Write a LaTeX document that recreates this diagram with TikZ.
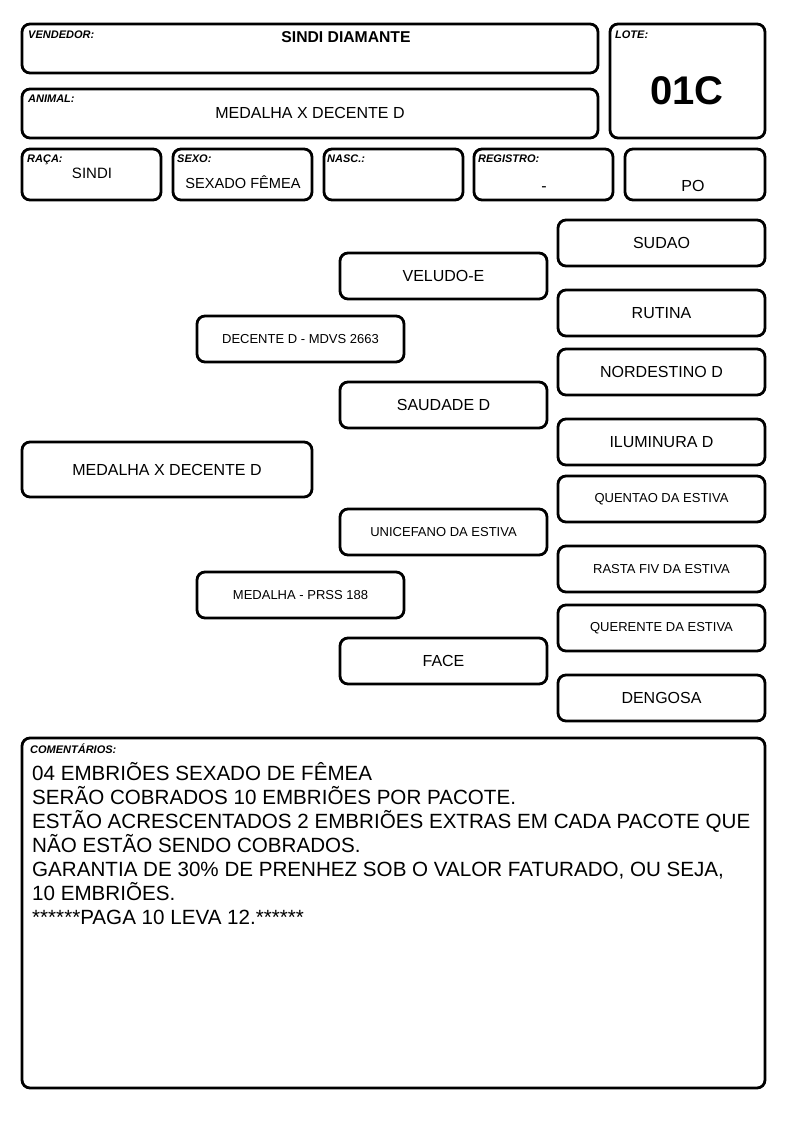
\documentclass[tikz,border=0pt]{standalone}
\usepackage{fontspec}
\setmainfont{Liberation Sans}
\begin{document}
\begin{tikzpicture}[x=1pt,y=-1pt,
  box/.style={draw=black,line width=2.8pt,rounded corners=8pt,inner sep=0pt,align=center},
  lbl/.style={anchor=base west,inner sep=0pt,font=\fontsize{11}{13}\selectfont\bfseries\itshape},
  big/.style={font=\fontsize{16}{19}\selectfont},
  small/.style={font=\fontsize{13}{15}\selectfont},
  val/.style={anchor=base,inner sep=0pt,font=\fontsize{16}{19}\selectfont},
  com/.style={anchor=base west,inner sep=0pt,font=\fontsize{20.6}{24}\selectfont}]
\useasboundingbox (0,0) rectangle (794,1123);
% header boxes
\node[box,minimum width=576pt,minimum height=49pt] (vend) at (310,48.5) {};
\node[box,minimum width=155pt,minimum height=114pt] (lote) at (687.5,81) {};
\node[box,minimum width=576pt,minimum height=49pt] (animal) at (310,113.5) {};
\node[box,minimum width=139pt,minimum height=51pt] (raca) at (91.5,174.5) {};
\node[box,minimum width=139pt,minimum height=51pt] (sexo) at (242.5,174.5) {};
\node[box,minimum width=139pt,minimum height=51pt] (nasc) at (393.5,174.5) {};
\node[box,minimum width=139pt,minimum height=51pt] (reg) at (543.5,174.5) {};
\node[box,minimum width=140pt,minimum height=51pt] (po) at (695,174.5) {};
% header texts
\node[lbl] (tvend) at (28,39) {VENDEDOR:};
\node[val,font=\fontsize{15.7}{19}\selectfont\bfseries] (tvendv) at (346,43) {SINDI DIAMANTE};
\node[lbl] (tlote) at (615,39) {LOTE:};
\node[val,font=\fontsize{40}{44}\selectfont\bfseries] (tlotev) at (687,105) {01C};
\node[lbl] (tanimal) at (28,103) {ANIMAL:};
\node[val] (tanimalv) at (310,119) {MEDALHA X DECENTE D};
\node[lbl] (traca) at (27,163) {RAÇA:};
\node[val,font=\fontsize{15}{18}\selectfont] (tracav) at (92,179) {SINDI};
\node[lbl] (tsexo) at (177,163) {SEXO:};
\node[val,font=\fontsize{14.6}{18}\selectfont] (tsexov) at (243,189) {SEXADO FÊMEA};
\node[lbl] (tnasc) at (327,163) {NASC.:};
\node[lbl] (treg) at (478,163) {REGISTRO:};
\node[val] (tregv) at (544,192) {-};
\node[val] (tpo) at (693,192) {PO};
% pedigree
\node[box,big,minimum width=290pt,minimum height=55pt] (root) at (167,469.5) {MEDALHA X DECENTE D};
\node[box,small,minimum width=207pt,minimum height=46pt] (sire) at (300.5,339) {DECENTE D - MDVS 2663};
\node[box,small,minimum width=207pt,minimum height=46pt] (dam) at (300.5,595) {MEDALHA - PRSS 188};
\node[box,big,minimum width=207pt,minimum height=46pt] (ss) at (443.5,276) {VELUDO-E};
\node[box,big,minimum width=207pt,minimum height=46pt] (sd) at (443.5,405) {SAUDADE D};
\node[box,small,minimum width=207pt,minimum height=46pt] (ds) at (443.5,532) {UNICEFANO DA ESTIVA};
\node[box,big,minimum width=207pt,minimum height=46pt] (dd) at (443.5,661) {FACE};
\node[box,big,minimum width=207pt,minimum height=46pt] (sss) at (661.5,243) {SUDAO};
\node[box,big,minimum width=207pt,minimum height=46pt] (ssd) at (661.5,313) {RUTINA};
\node[box,big,minimum width=207pt,minimum height=46pt] (sds) at (661.5,372) {NORDESTINO D};
\node[box,big,minimum width=207pt,minimum height=46pt] (sdd) at (661.5,442) {ILUMINURA D};
\node[box,small,minimum width=207pt,minimum height=46pt] (dss) at (661.5,499) {QUENTAO DA ESTIVA};
\node[box,small,minimum width=207pt,minimum height=46pt] (dsd) at (661.5,569) {RASTA FIV DA ESTIVA};
\node[box,small,minimum width=207pt,minimum height=46pt] (dds) at (661.5,628) {QUERENTE DA ESTIVA};
\node[box,big,minimum width=207pt,minimum height=46pt] (ddd) at (661.5,698) {DENGOSA};
% comments
\node[box,minimum width=743pt,minimum height=350pt] (com) at (393.5,913) {};
\node[lbl] (tcom) at (30,753) {COMENTÁRIOS:};
\node[com] (c1) at (32,780) {04 EMBRIÕES SEXADO DE FÊMEA};
\node[com] (c2) at (32,804) {SERÃO COBRADOS 10 EMBRIÕES POR PACOTE.};
\node[com] (c3) at (32,828) {ESTÃO ACRESCENTADOS 2 EMBRIÕES EXTRAS EM CADA PACOTE QUE};
\node[com] (c4) at (32,852) {NÃO ESTÃO SENDO COBRADOS.};
\node[com] (c5) at (32,876) {GARANTIA DE 30\% DE PRENHEZ SOB O VALOR FATURADO, OU SEJA,};
\node[com] (c6) at (32,900) {10 EMBRIÕES.};
\node[com] (c7) at (32,924) {******PAGA 10 LEVA 12.******};
\end{tikzpicture}
\end{document}
